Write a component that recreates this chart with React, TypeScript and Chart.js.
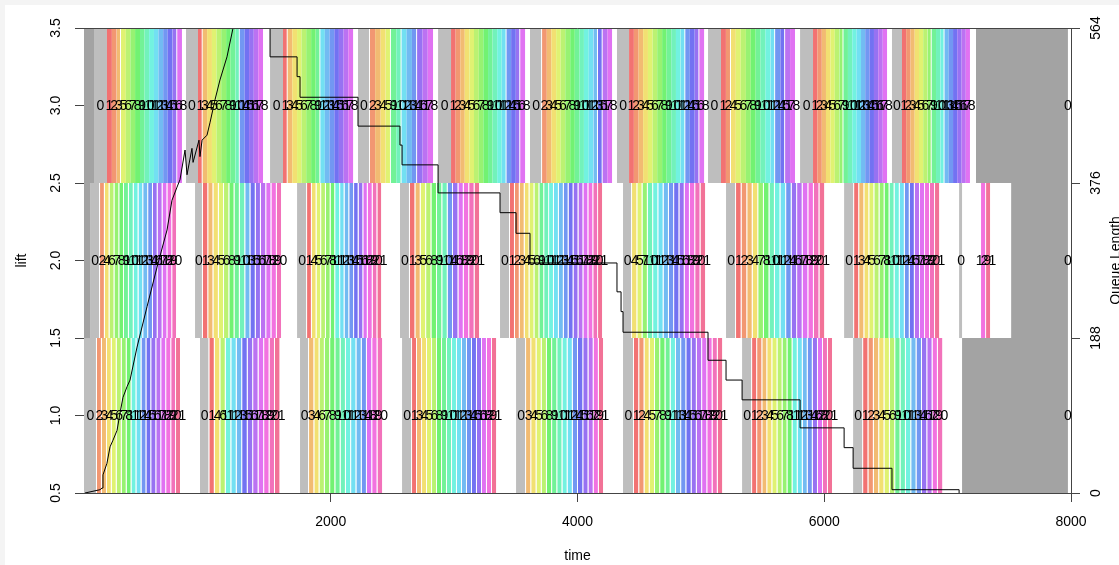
import React, { useEffect, useRef } from "react";
import { Chart, registerables } from "chart.js";

Chart.register(...registerables);

const FONT_FAMILY = '"Liberation Sans", Arial, sans-serif';

// ---- axis ticks ----
const timeTicks = [2000, 4000, 6000, 8000];
const liftTicks = [0.5, 1, 1.5, 2, 2.5, 3, 3.5];
const queueTicks = [0, 188, 376, 564];

// ---- lift 3 trips: start time, floors visited (-1 idle, 0 loading), duration of each stop ----
const lift3TripStart = [0, 81, 827, 1508, 2221, 2870, 3615, 4320, 5058, 5804, 6549, 7230];
const lift3TripFloors = [
  [-1],
  [0, 1, 2, 3, 5, 6, 7, 8, 9, 10, 11, 12, 13, 14, 15, 16, 18],
  [0, 1, 3, 4, 5, 6, 7, 8, 9, 10, 14, 15, 16, 17, 18],
  [0, 1, 3, 4, 5, 6, 7, 8, 9, 12, 13, 14, 15, 16, 17, 18],
  [0, 2, 3, 4, 5, 9, 10, 12, 13, 14, 16, 17, 18],
  [0, 1, 2, 3, 4, 5, 6, 7, 8, 9, 10, 11, 12, 14, 15, 16, 18],
  [0, 2, 3, 4, 5, 6, 7, 8, 9, 10, 11, 12, 13, 15, 17, 18],
  [0, 1, 2, 3, 4, 5, 6, 7, 8, 9, 10, 11, 12, 14, 15, 16, 18],
  [0, 1, 2, 4, 5, 6, 7, 8, 9, 10, 11, 12, 14, 15, 17, 18],
  [0, 1, 2, 3, 4, 5, 6, 7, 9, 10, 11, 12, 13, 14, 15, 16, 17, 18],
  [0, 1, 2, 3, 4, 5, 6, 7, 9, 10, 11, 13, 14, 15, 16, 17, 18],
  [-1, 0],
];
const lift3TripDurations = [
  [81],
  [105, 40, 38, 36, 39, 37, 38, 40, 36, 38, 39, 37, 38, 36, 40, 38, 38],
  [97, 38, 36, 39, 37, 38, 40, 36, 38, 37, 39, 36, 38, 37, 38],
  [105, 38, 37, 39, 36, 38, 40, 37, 38, 36, 39, 38, 37, 38, 39, 38],
  [97, 42, 44, 41, 43, 42, 44, 41, 43, 42, 44, 42, 43],
  [105, 37, 38, 36, 38, 37, 39, 37, 38, 36, 38, 37, 39, 37, 38, 36, 39],
  [98, 38, 37, 39, 36, 38, 40, 37, 38, 36, 39, 38, 37, 38, 39, 37],
  [98, 39, 38, 37, 39, 38, 37, 40, 36, 38, 38, 37, 39, 36, 40, 38, 38],
  [105, 40, 41, 39, 40, 42, 39, 40, 38, 41, 40, 39, 41, 40, 40, 40],
  [105, 35, 36, 34, 36, 35, 37, 34, 36, 35, 35, 36, 34, 35, 36, 35, 36, 35],
  [81, 34, 35, 34, 35, 34, 35, 34, 35, 34, 35, 34, 35, 34, 35, 34, 34],
  [745, 0],
];

// ---- lift 2 trips ----
const lift2TripStart = [0, 49, 900, 1727, 2561, 3372, 4369, 5204, 6161, 7093, 7515];
const lift2TripFloors = [
  [-1],
  [0, 2, 4, 6, 7, 8, 9, 10, 11, 12, 13, 14, 16, 17, 18, 19, 20],
  [0, 1, 3, 4, 5, 6, 8, 9, 10, 13, 15, 16, 17, 18, 19, 20],
  [0, 1, 4, 5, 6, 7, 8, 11, 12, 13, 14, 15, 16, 18, 19, 20, 21],
  [0, 1, 3, 5, 6, 8, 9, 10, 14, 16, 18, 19, 20, 21],
  [0, 1, 2, 3, 4, 5, 6, 9, 10, 11, 12, 13, 14, 15, 16, 17, 18, 19, 20, 21],
  [0, 4, 5, 7, 10, 11, 12, 13, 14, 15, 16, 18, 19, 20, 21],
  [0, 1, 2, 3, 4, 7, 8, 10, 11, 12, 14, 16, 17, 18, 19, 20, 21],
  [0, 1, 3, 4, 5, 6, 7, 8, 10, 11, 12, 14, 15, 17, 18, 19, 20, 21],
  [0, null, 19, 21],
  [-1, 0],
];
const lift2TripDurations = [
  [49],
  [81, 39, 38, 40, 39, 38, 40, 39, 39, 38, 40, 39, 38, 40, 39, 39, 39],
  [64, 43, 42, 44, 42, 43, 42, 43, 44, 42, 43, 42, 43, 42, 44, 42],
  [81, 39, 38, 37, 39, 38, 37, 40, 36, 38, 39, 37, 38, 36, 40, 38, 38],
  [81, 44, 43, 44, 43, 45, 43, 44, 43, 44, 43, 44, 44, 44],
  [81, 40, 39, 40, 39, 40, 40, 39, 40, 39, 40, 40, 39, 40, 40, 40, 40, 40, 39, 40],
  [73, 43, 42, 43, 43, 42, 43, 43, 42, 43, 43, 42, 43, 43, 45],
  [81, 45, 46, 44, 45, 46, 45, 44, 45, 46, 45, 44, 45, 46, 45, 45, 46],
  [81, 41, 42, 40, 41, 42, 41, 40, 41, 42, 41, 40, 41, 42, 41, 40, 41, 41],
  [32, 146, 41, 40],
  [460, 0],
];

// ---- lift 1 trips ----
const lift1TripStart = [0, 940, 1751, 2578, 3502, 4369, 5334, 6234, 7117];
const lift1TripFloors = [
  [0, 2, 3, 4, 5, 6, 7, 8, 11, 12, 14, 15, 16, 17, 18, 19, 20, 21],
  [0, 1, 4, 6, 11, 12, 13, 15, 16, 17, 18, 19, 20, 21],
  [0, 3, 4, 6, 7, 8, 9, 10, 11, 12, 13, 14, 18, 19, 20],
  [0, 1, 3, 4, 5, 6, 8, 9, 10, 11, 12, 13, 14, 15, 16, 18, 19, 21],
  [0, 3, 4, 5, 6, 8, 9, 10, 11, 12, 14, 15, 16, 17, 19, 21],
  [0, 1, 2, 4, 5, 7, 8, 9, 11, 13, 14, 15, 16, 17, 18, 19, 20, 21],
  [0, 1, 2, 3, 4, 5, 6, 7, 8, 11, 12, 13, 14, 16, 18, 20, 21],
  [0, 1, 2, 3, 4, 5, 6, 9, 10, 11, 13, 14, 16, 17, 19, 20],
  [-1, 0],
];
const lift1TripDurations = [
  [105, 40, 41, 39, 40, 41, 40, 39, 40, 41, 40, 39, 41, 40, 40, 41, 39, 40],
  [76, 44, 45, 44, 45, 44, 44, 45, 44, 44, 45, 44, 44, 44],
  [73, 43, 42, 43, 43, 42, 43, 43, 42, 43, 43, 42, 43, 43, 45],
  [81, 40, 41, 40, 41, 40, 41, 40, 41, 40, 41, 40, 41, 40, 41, 40, 41, 41],
  [81, 42, 43, 42, 42, 42, 42, 42, 42, 42, 42, 43, 42, 42, 42, 42],
  [89, 42, 43, 42, 43, 42, 43, 42, 43, 42, 42, 43, 42, 43, 42, 43, 42, 43],
  [81, 41, 42, 40, 41, 42, 41, 40, 41, 42, 41, 40, 41, 42, 41, 40, 41],
  [81, 43, 44, 43, 43, 44, 43, 43, 44, 43, 43, 44, 43, 43, 43, 43],
  [858, 0],
];

// ---- queue length (right axis) ----
const rampTime = [8, 130, 146, 154, 186, 211, 235, 268, 292, 316, 349, 373, 430, 511, 592, 673, 713, 754, 778, 819, 835, 875, 884, 932, 940, 957, 997, 1021, 1062, 1102, 1159, 1208];
const rampQueue = [0, 4, 6, 22, 36, 56, 64, 76, 97, 116, 129, 137, 177, 226, 274, 319, 355, 371, 380, 416, 386, 418, 401, 428, 408, 428, 434, 449, 477, 501, 529, 564];
const stepTime = [1208, 1508, 1727, 1751, 2221, 2561, 2578, 2870, 3372, 3502, 3615, 4320, 4353, 4369, 5058, 5204, 5334, 5804, 6161, 6234, 6549, 7093];
const stepQueue = [564, 529, 505, 480, 445, 422, 398, 364, 340, 315, 279, 244, 220, 195, 161, 137, 113, 79, 55, 30, 4, 0];

function hsv(h: number, s: number, v: number): string {
  const c = v * s;
  const hp = h / 60;
  const x = c * (1 - Math.abs((hp % 2) - 1));
  let r = 0, g = 0, b = 0;
  if (hp < 1) { r = c; g = x; }
  else if (hp < 2) { r = x; g = c; }
  else if (hp < 3) { g = c; b = x; }
  else if (hp < 4) { g = x; b = c; }
  else if (hp < 5) { r = x; b = c; }
  else { r = c; b = x; }
  const m = v - c;
  return `rgb(${Math.round((r + m) * 255)},${Math.round((g + m) * 255)},${Math.round((b + m) * 255)})`;
}

function floorColor(f: number): string {
  if (f === -1) return "#A3A3A3";
  if (f === 0) return "#BEBEBE";
  return hsv(((f - 1) / 21) * 360, 0.53, 0.95);
}

function buildLift(lift: number, starts: number[], floors: (number | null)[][], durs: number[][], separateAll: boolean) {
  const data: any[] = [];
  const colors: string[] = [];
  const labels: (string | null)[] = [];
  starts.forEach((s, i) => {
    let t = s;
    const fl = floors[i];
    const du = durs[i];
    fl.forEach((f, j) => {
      const e = t + du[j];
      if (f !== null) {
        const next = fl[j + 1];
        let sep: boolean;
        if (separateAll) sep = f >= 0 && du[j] > 0;
        else sep = f >= 0 && next !== undefined && next !== null && next !== f + 1;
        data.push({ x: [t, e], y: lift, sep });
        colors.push(floorColor(f));
        labels.push(f >= 0 ? String(f) : null);
      }
      t = e;
    });
  });
  return {
    type: "bar" as const,
    indexAxis: "y" as const,
    xAxisID: "x",
    yAxisID: "y",
    data,
    backgroundColor: colors,
    borderColor: "#FFFFFF",
    borderWidth: (ctx: any) =>
      ctx.raw && ctx.raw.sep ? { top: 0, right: 1, bottom: 0, left: 0 } : 0,
    borderSkipped: false,
    grouped: false,
    barPercentage: 2,
    categoryPercentage: 1,
    floorLabels: labels,
  };
}

const backgroundPlugin = {
  id: "pageBackground",
  beforeDraw(chart: any) {
    const { ctx, width, height } = chart;
    ctx.save();
    ctx.fillStyle = "#F4F4F4";
    ctx.fillRect(0, 0, width, height);
    ctx.fillStyle = "#FFFFFF";
    ctx.fillRect(5, 5, width - 5, height - 5);
    ctx.restore();
  },
};

const floorLabelPlugin = {
  id: "floorLabels",
  afterDatasetDraw(chart: any, args: any) {
    const ds = chart.data.datasets[args.index];
    if (!ds.floorLabels) return;
    const { ctx } = chart;
    ctx.save();
    ctx.font = `14px ${FONT_FAMILY}`;
    ctx.fillStyle = "#000000";
    ctx.textAlign = "center";
    ctx.textBaseline = "middle";
    args.meta.data.forEach((el: any, i: number) => {
      const lab = ds.floorLabels[i];
      if (lab == null) return;
      const cx = (el.x + el.base) / 2;
      ctx.fillText(lab, cx, el.y + 1);
    });
    ctx.restore();
  },
};

const framePlugin = {
  id: "frameAndTitles",
  afterDraw(chart: any) {
    const { ctx, chartArea } = chart;
    ctx.save();
    ctx.strokeStyle = "#444444";
    ctx.lineWidth = 1;
    ctx.beginPath();
    ctx.moveTo(chartArea.left, chartArea.top + 0.5);
    ctx.lineTo(chartArea.right, chartArea.top + 0.5);
    ctx.stroke();

    ctx.fillStyle = "#000000";
    ctx.font = `14px ${FONT_FAMILY}`;
    ctx.textAlign = "center";
    ctx.textBaseline = "middle";
    const midY = (chartArea.top + chartArea.bottom) / 2;
    ctx.fillText("time", (chartArea.left + chartArea.right) / 2, 556);

    ctx.save();
    ctx.translate(22, midY);
    ctx.rotate(-Math.PI / 2);
    ctx.fillText("lift", 0, 0);
    ctx.restore();

    ctx.save();
    ctx.translate(1116, midY);
    ctx.rotate(-Math.PI / 2);
    ctx.fillText("Queue Length", 0, 0);
    ctx.restore();
    ctx.restore();
  },
};

export default function App() {
  const canvasRef = useRef<HTMLCanvasElement | null>(null);

  useEffect(() => {
    const canvas = canvasRef.current;
    if (!canvas) return;

    const tickFont = { family: FONT_FAMILY, size: 14 };
    const gridOpts = { display: true, offset: false, drawOnChartArea: false, drawTicks: true, tickLength: 9, color: "#444444", lineWidth: 1 };
    const borderOpts = { display: true, color: "#444444", width: 1 };

    const datasets: any[] = [
      {
        type: "line",
        data: rampTime.map((t, i) => ({ x: t, y: rampQueue[i] })),
        xAxisID: "x",
        yAxisID: "y2",
        indexAxis: "x",
        borderColor: "#000000",
        borderWidth: 1,
        pointRadius: 0,
        fill: false,
        tension: 0,
      },
      {
        type: "line",
        data: stepTime.map((t, i) => ({ x: t, y: stepQueue[i] })),
        xAxisID: "x",
        yAxisID: "y2",
        indexAxis: "x",
        borderColor: "#000000",
        borderWidth: 1,
        pointRadius: 0,
        fill: false,
        stepped: true,
      },
      buildLift(3, lift3TripStart, lift3TripFloors, lift3TripDurations, false),
      buildLift(2, lift2TripStart, lift2TripFloors, lift2TripDurations, true),
      buildLift(1, lift1TripStart, lift1TripFloors, lift1TripDurations, true),
    ];

    const chart = new Chart(canvas, {
      type: "bar",
      data: { datasets },
      plugins: [backgroundPlugin, floorLabelPlugin, framePlugin],
      options: {
        animation: false,
        responsive: false,
        devicePixelRatio: 1,
        events: [],
        layout: { padding: { top: 28, left: 0, right: 0, bottom: 0 } },
        plugins: { legend: { display: false }, tooltip: { enabled: false }, title: { display: false } },
        scales: {
          x: {
            type: "linear",
            position: "bottom",
            min: 0,
            max: 8000,
            offset: false,
            z: 1,
            afterBuildTicks: (scale: any) => {
              scale.ticks = timeTicks.map((v) => ({ value: v }));
            },
            afterFit: (scale: any) => { scale.height = 72; },
            ticks: { font: tickFont, color: "#000000", padding: 12, maxRotation: 0, autoSkip: false, callback: (v: any) => String(v) },
            grid: gridOpts,
            border: borderOpts,
          },
          y: {
            type: "linear",
            position: "left",
            min: 0.5,
            max: 3.5,
            offset: false,
            z: 1,
            afterBuildTicks: (scale: any) => {
              scale.ticks = liftTicks.map((v) => ({ value: v }));
            },
            afterFit: (scale: any) => { scale.width = 84; },
            ticks: { font: tickFont, color: "#000000", padding: 9, minRotation: 90, maxRotation: 90, crossAlign: "center", autoSkip: false, callback: (v: any) => Number(v).toFixed(1) },
            grid: gridOpts,
            border: borderOpts,
          },
          y2: {
            type: "linear",
            position: "right",
            min: 0,
            max: 564,
            offset: false,
            z: 1,
            afterBuildTicks: (scale: any) => {
              scale.ticks = queueTicks.map((v) => ({ value: v }));
            },
            afterFit: (scale: any) => { scale.width = 48; },
            ticks: { font: tickFont, color: "#000000", padding: 4, minRotation: 90, maxRotation: 90, crossAlign: "center", autoSkip: false, callback: (v: any) => String(v) },
            grid: gridOpts,
            border: borderOpts,
          },
        },
      } as any,
    });

    return () => chart.destroy();
  }, []);

  return (
    <div style={{ position: "fixed", left: 0, top: 0, width: 1119, height: 565 }}>
      <canvas ref={canvasRef} width={1119} height={565} style={{ display: "block", width: 1119, height: 565 }} />
    </div>
  );
}
